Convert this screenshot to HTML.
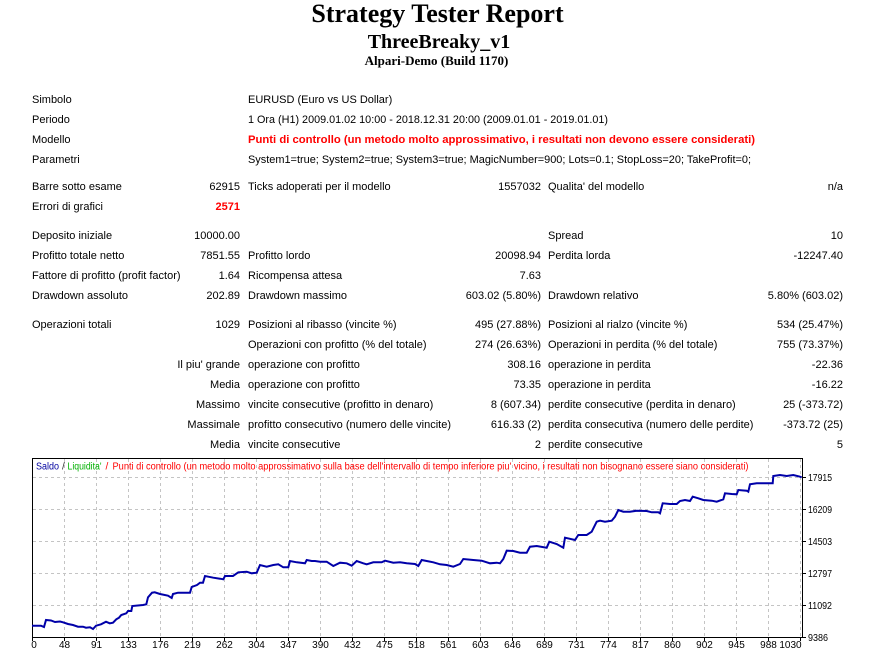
<!DOCTYPE html>
<html><head><meta charset="utf-8"><style>
html,body{margin:0;padding:0;background:#fff;width:871px;height:656px;overflow:hidden}
svg{display:block}
.t{font-family:"Liberation Sans",sans-serif;font-size:11px;fill:#000}
.r{text-anchor:end}
.ax{font-family:"Liberation Sans",sans-serif;font-size:10px;fill:#000}
</style></head><body>
<svg width="871" height="656" viewBox="0 0 871 656" xmlns="http://www.w3.org/2000/svg">
<rect width="871" height="656" fill="#fff"/>
<g font-family="'Liberation Serif',serif" font-weight="bold" text-anchor="middle" fill="#000">
<text x="437.5" y="22" font-size="26">Strategy Tester Report</text>
<text x="439" y="48" font-size="20">ThreeBreaky_v1</text>
<text x="436.5" y="65" font-size="13">Alpari-Demo (Build 1170)</text>
</g>
<g class="t">
<text x="32" y="103">Simbolo</text>
<text x="248" y="103">EURUSD (Euro vs US Dollar)</text>
<text x="32" y="123">Periodo</text>
<text x="248" y="123" textLength="360" lengthAdjust="spacingAndGlyphs">1 Ora (H1) 2009.01.02 10:00 - 2018.12.31 20:00 (2009.01.01 - 2019.01.01)</text>
<text x="32" y="143">Modello</text>
<text x="248" y="143" textLength="507" lengthAdjust="spacingAndGlyphs" font-weight="bold" fill="#ff0000">Punti di controllo (un metodo molto approssimativo, i resultati non devono essere considerati)</text>
<text x="32" y="163">Parametri</text>
<text x="248" y="163" textLength="503" lengthAdjust="spacingAndGlyphs">System1=true; System2=true; System3=true; MagicNumber=900; Lots=0.1; StopLoss=20; TakeProfit=0;</text>

<text x="32" y="190">Barre sotto esame</text>
<text x="240" y="190" class="r">62915</text>
<text x="248" y="190">Ticks adoperati per il modello</text>
<text x="541" y="190" class="r">1557032</text>
<text x="548" y="190">Qualita' del modello</text>
<text x="843" y="190" class="r">n/a</text>

<text x="32" y="210">Errori di grafici</text>
<text x="240" y="210" class="r" font-weight="bold" fill="#ff0000">2571</text>

<text x="32" y="239">Deposito iniziale</text>
<text x="240" y="239" class="r">10000.00</text>
<text x="548" y="239">Spread</text>
<text x="843" y="239" class="r">10</text>

<text x="32" y="259">Profitto totale netto</text>
<text x="240" y="259" class="r">7851.55</text>
<text x="248" y="259">Profitto lordo</text>
<text x="541" y="259" class="r">20098.94</text>
<text x="548" y="259">Perdita lorda</text>
<text x="843" y="259" class="r">-12247.40</text>

<text x="32" y="279">Fattore di profitto (profit factor)</text>
<text x="240" y="279" class="r">1.64</text>
<text x="248" y="279">Ricompensa attesa</text>
<text x="541" y="279" class="r">7.63</text>

<text x="32" y="299">Drawdown assoluto</text>
<text x="240" y="299" class="r">202.89</text>
<text x="248" y="299">Drawdown massimo</text>
<text x="541" y="299" class="r">603.02 (5.80%)</text>
<text x="548" y="299">Drawdown relativo</text>
<text x="843" y="299" class="r">5.80% (603.02)</text>

<text x="32" y="328">Operazioni totali</text>
<text x="240" y="328" class="r">1029</text>
<text x="248" y="328">Posizioni al ribasso (vincite %)</text>
<text x="541" y="328" class="r">495 (27.88%)</text>
<text x="548" y="328">Posizioni al rialzo (vincite %)</text>
<text x="843" y="328" class="r">534 (25.47%)</text>

<text x="248" y="348">Operazioni con profitto (% del totale)</text>
<text x="541" y="348" class="r">274 (26.63%)</text>
<text x="548" y="348">Operazioni in perdita (% del totale)</text>
<text x="843" y="348" class="r">755 (73.37%)</text>

<text x="240" y="368" class="r">Il piu' grande</text>
<text x="248" y="368">operazione con profitto</text>
<text x="541" y="368" class="r">308.16</text>
<text x="548" y="368">operazione in perdita</text>
<text x="843" y="368" class="r">-22.36</text>

<text x="240" y="388" class="r">Media</text>
<text x="248" y="388">operazione con profitto</text>
<text x="541" y="388" class="r">73.35</text>
<text x="548" y="388">operazione in perdita</text>
<text x="843" y="388" class="r">-16.22</text>

<text x="240" y="408" class="r">Massimo</text>
<text x="248" y="408">vincite consecutive (profitto in denaro)</text>
<text x="541" y="408" class="r">8 (607.34)</text>
<text x="548" y="408">perdite consecutive (perdita in denaro)</text>
<text x="843" y="408" class="r">25 (-373.72)</text>

<text x="240" y="428" class="r">Massimale</text>
<text x="248" y="428">profitto consecutivo (numero delle vincite)</text>
<text x="541" y="428" class="r">616.33 (2)</text>
<text x="548" y="428">perdita consecutiva (numero delle perdite)</text>
<text x="843" y="428" class="r">-373.72 (25)</text>

<text x="240" y="448" class="r">Media</text>
<text x="248" y="448">vincite consecutive</text>
<text x="541" y="448" class="r">2</text>
<text x="548" y="448">perdite consecutive</text>
<text x="843" y="448" class="r">5</text>
</g>

<!-- chart -->
<g stroke="#c4c4c4" stroke-width="1" stroke-dasharray="3,3" fill="none">
<path d="M64.5 459V637M96.5 459V637M128.5 459V637M160.5 459V637M192.5 459V637M224.5 459V637M256.5 459V637M288.5 459V637M320.5 459V637M352.5 459V637M384.5 459V637M416.5 459V637M448.5 459V637M480.5 459V637M512.5 459V637M544.5 459V637M576.5 459V637M608.5 459V637M640.5 459V637M672.5 459V637M704.5 459V637M736.5 459V637M768.5 459V637M800.5 459V637"/>
<path d="M33 477.5H802M33 509.5H802M33 541.5H802M33 573.5H802M33 605.5H802"/>
</g>
<rect x="32.5" y="458.5" width="770" height="179" fill="none" stroke="#000" stroke-width="1"/>
<g stroke="#000" stroke-width="1">
<path d="M32.5 637V641M64.5 637V641M96.5 637V641M128.5 637V641M160.5 637V641M192.5 637V641M224.5 637V641M256.5 637V641M288.5 637V641M320.5 637V641M352.5 637V641M384.5 637V641M416.5 637V641M448.5 637V641M480.5 637V641M512.5 637V641M544.5 637V641M576.5 637V641M608.5 637V641M640.5 637V641M672.5 637V641M704.5 637V641M736.5 637V641M768.5 637V641M800.5 637V641"/>
<path d="M802 477.5H806M802 509.5H806M802 541.5H806M802 573.5H806M802 605.5H806M802 637.5H806"/>
</g>

<g font-family="'Liberation Sans',sans-serif" font-size="10">
<text x="36" y="469.5" fill="#0000a0" textLength="23" lengthAdjust="spacingAndGlyphs">Saldo</text>
<text x="62" y="469.5" fill="#333">/</text>
<text x="67.5" y="469.5" fill="#00b000" textLength="34" lengthAdjust="spacingAndGlyphs">Liquidita'</text>
<text x="105.5" y="469.5" fill="#ff0000">/</text>
<text x="112.5" y="469.5" fill="#ff0000" textLength="636" lengthAdjust="spacingAndGlyphs">Punti di controllo (un metodo molto approssimativo sulla base dell'intervallo di tempo inferiore piu' vicino, i resultati non bisognano essere siano considerati)</text>
</g>

<polyline fill="none" stroke="#0000a8" stroke-width="2" stroke-linejoin="miter" points="32,625.7 41,625.7 44,627 46,620 51,620.5 55,622 60,621.5 63,622.3 68,624 73,625 78,626.7 83,626.7 86,627.7 90,627.3 93,629 96,625.7 101,624.3 106,621.7 109.7,623.3 113,622.7 116.3,619.3 119,617.7 121.3,615 126.3,613.3 128,611 131.3,611 132.3,606 143,605 146.3,604.3 148,597.3 152,592.7 154.7,592.3 160,594 168,595.7 171.7,598 173,594 178,592.7 190,592.7 191.7,587 197,585 200,582.7 203,582.7 205,576 208.3,576.7 213.3,577.7 220,578.7 223.3,579.3 225,576 233,576 238.3,572.3 246.7,571.7 251.7,573.3 256.7,572.7 260,565 266.7,566.7 273.3,565 278.3,564.3 283.3,567.3 288.3,567.3 290,561 296.7,562.3 305,563.3 306.7,560 311.7,561 315,561 320,561.7 326.7,561.7 333.3,566 340,562.7 346.7,563.3 351.7,565.7 356.7,561 363.3,563.3 366.7,564.3 373.3,562.3 381.7,562.3 385,560.7 393.3,562.7 400,562.3 406.7,563.3 415,564 418.3,566 421.7,560 426.7,561 433.3,562.3 440,564.3 446.7,565 453.3,566.7 460,564 463.3,559 473.3,560 481.7,560.7 490,563.3 496.7,562.7 500,563.3 503.3,559 506.7,550.7 513.3,551 520,552.7 526.7,552.7 530,546.7 536.7,546 546.7,547.7 549.3,541.7 556.7,544 563.3,547.7 565,537.7 575,540 578.3,535 586.7,535 591.7,531.7 596.7,521.7 600,520.7 605,521.7 611.7,520.7 615,516.7 618.3,510 623.3,511.7 630,511.7 636.7,510.7 646.7,511 651.7,512.3 658.3,512.3 660,513.3 662.7,503.3 670,504 676.7,504 680,501 685,500 690,501 692.7,496.7 698.3,498.3 703.3,500 711.7,500.7 716.7,501.7 723.3,499.3 725,493.3 731.7,494 736.7,494.3 738.3,490 746.7,490.7 748.3,491.7 750,484.3 756.7,483.3 766.7,483.3 772.7,483.3 773.3,476 780,475 786.7,476 793.3,475 800,476.7 801.7,477.3"/>

<g class="ax">
<text x="808" y="481" textLength="24" lengthAdjust="spacingAndGlyphs">17915</text>
<text x="808" y="513" textLength="24" lengthAdjust="spacingAndGlyphs">16209</text>
<text x="808" y="545" textLength="24" lengthAdjust="spacingAndGlyphs">14503</text>
<text x="808" y="577" textLength="24" lengthAdjust="spacingAndGlyphs">12797</text>
<text x="808" y="609" textLength="24" lengthAdjust="spacingAndGlyphs">11092</text>
<text x="808" y="641" textLength="20" lengthAdjust="spacingAndGlyphs">9386</text>
</g>
<g class="ax" text-anchor="middle">
<text x="34" y="648">0</text>
<text x="64.5" y="648">48</text>
<text x="96.5" y="648">91</text>
<text x="128.5" y="648">133</text>
<text x="160.5" y="648">176</text>
<text x="192.5" y="648">219</text>
<text x="224.5" y="648">262</text>
<text x="256.5" y="648">304</text>
<text x="288.5" y="648">347</text>
<text x="320.5" y="648">390</text>
<text x="352.5" y="648">432</text>
<text x="384.5" y="648">475</text>
<text x="416.5" y="648">518</text>
<text x="448.5" y="648">561</text>
<text x="480.5" y="648">603</text>
<text x="512.5" y="648">646</text>
<text x="544.5" y="648">689</text>
<text x="576.5" y="648">731</text>
<text x="608.5" y="648">774</text>
<text x="640.5" y="648">817</text>
<text x="672.5" y="648">860</text>
<text x="704.5" y="648">902</text>
<text x="736.5" y="648">945</text>
<text x="768.5" y="648">988</text>
<text x="790.5" y="648">1030</text>
</g>
</svg>
</body></html>
